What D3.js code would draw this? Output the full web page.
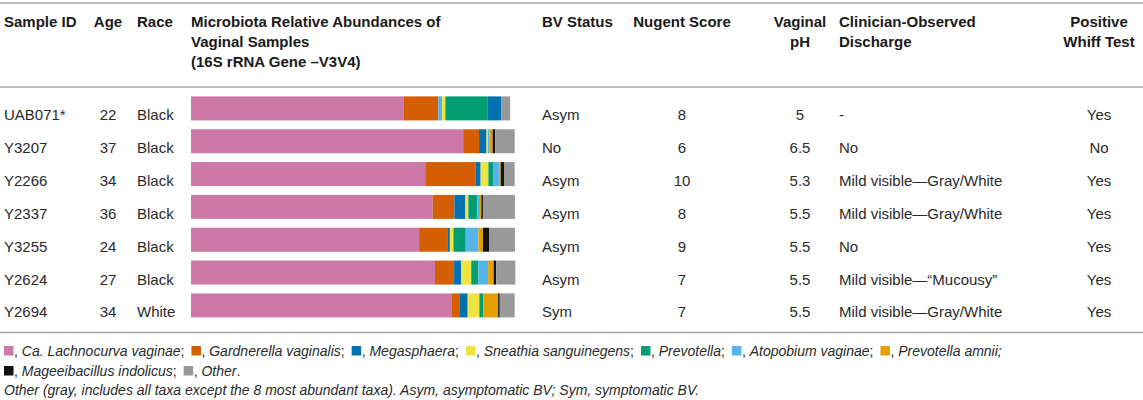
<!DOCTYPE html>
<html>
<head>
<meta charset="utf-8">
<script src="https://cdn.jsdelivr.net/npm/d3@7"></script>
<style>
  html, body { margin: 0; padding: 0; background: #fff; }
  svg { display: block; font-family: "Liberation Sans", Arial, Helvetica, sans-serif; }
</style>
</head>
<body>
<svg id="chart" width="1143" height="400"></svg>
<script>
// ---------- data ----------
const sampleIds = ["UAB071*", "Y3207", "Y2266", "Y2337", "Y3255", "Y2624", "Y2694"];
const ages = [22, 37, 34, 36, 24, 27, 34];
const races = ["Black", "Black", "Black", "Black", "Black", "Black", "White"];
const bvStatus = ["Asym", "No", "Asym", "Asym", "Asym", "Asym", "Sym"];
const nugentScores = [8, 6, 10, 8, 9, 7, 7];
const vaginalPH = ["5", "6.5", "5.3", "5.5", "5.5", "5.5", "5.5"];
const discharge = ["-", "No", "Mild visible\u2014Gray/White", "Mild visible\u2014Gray/White", "No",
                   "Mild visible\u2014\u201cMucousy\u201d", "Mild visible\u2014Gray/White"];
const whiffTest = ["Yes", "No", "Yes", "Yes", "Yes", "Yes", "Yes"];

// relative abundances (%) per taxon, one value per sample
const lachnocurva = [65.7, 84.0, 72.3, 74.6, 70.4, 75.3, 80.5];
const gardnerella = [10.6, 4.9, 15.6, 6.7, 8.9, 5.9, 2.3];
const megasphaera = [4.1, 2.3, 1.5, 3.4, 0.6, 2.2, 2.6];
const sneathia    = [1.0, 0.4, 2.4, 0.9, 1.1, 3.1, 3.6];
const prevotella  = [13.1, 0, 1.4, 2.8, 3.8, 2.2, 1.2];
const atopobium   = [1.2, 0.6, 2.1, 0.8, 3.9, 3.0, 0];
const prevAmnii   = [0, 0.9, 0.3, 0.4, 1.4, 1.7, 4.6];
const mageeibacillus = [0, 0.8, 1.0, 0.5, 2.0, 0.8, 0.5];
const other       = [2.8, 6.0, 3.3, 9.9, 7.9, 5.9, 4.6];

const taxa = ["lachnocurva", "gardnerella", "megasphaera", "sneathia", "prevotella",
              "atopobium", "prevAmnii", "mageeibacillus", "other"];
const taxonNames = ["Ca. Lachnocurva vaginae", "Gardnerella vaginalis", "Megasphaera",
                    "Sneathia sanguinegens", "Prevotella", "Atopobium vaginae",
                    "Prevotella amnii", "Mageeibacillus indolicus", "Other"];
const taxonColors = ["#CC79A7", "#D55E00", "#0072B2", "#F0E442", "#009E73",
                     "#56B4E9", "#E69F00", "#111111", "#999999"];
// stacking order seen in each bar
const defaultOrder = taxa;
const barOrders = [
  ["lachnocurva", "gardnerella", "atopobium", "sneathia", "prevotella", "megasphaera", "other"],
  defaultOrder, defaultOrder, defaultOrder, defaultOrder, defaultOrder, defaultOrder
];

const abundance = { lachnocurva, gardnerella, megasphaera, sneathia, prevotella,
                    atopobium, prevAmnii, mageeibacillus, other };

// ---------- layout ----------
const svg = d3.select("#chart");
const W = 1143;
const rowY = d3.scaleLinear().domain([0, 6]).range([115, 312]);   // text visual centers
const x = d3.scaleLinear().domain([0, 100]).range([191, 515]);
const color = d3.scaleOrdinal().domain(taxa).range(taxonColors);

const ruleColor = "#a8a8a8";
[3, 87, 332.5].forEach(y => {
  svg.append("line").attr("x1", 0).attr("x2", W).attr("y1", y).attr("y2", y)
    .attr("stroke", ruleColor).attr("stroke-width", 1.4);
});

// headers
const headers = [
  { lines: ["Sample ID"], x: 4, anchor: "start" },
  { lines: ["Age"], x: 108, anchor: "middle" },
  { lines: ["Race"], x: 137, anchor: "start" },
  { lines: ["Microbiota Relative Abundances of", "Vaginal Samples", "(16S rRNA Gene \u2013V3V4)"], x: 191, anchor: "start" },
  { lines: ["BV Status"], x: 542, anchor: "start" },
  { lines: ["Nugent Score"], x: 682, anchor: "middle" },
  { lines: ["Vaginal", "pH"], x: 800, anchor: "middle" },
  { lines: ["Clinician-Observed", "Discharge"], x: 839, anchor: "start" },
  { lines: ["Positive", "Whiff Test"], x: 1099, anchor: "middle" }
];
headers.forEach(h => {
  const t = svg.append("text").attr("x", h.x).attr("y", 27)
    .attr("text-anchor", h.anchor).attr("font-weight", "bold")
    .attr("font-size", 15).attr("fill", "#1a1a1a");
  h.lines.forEach((l, i) => {
    t.append("tspan").attr("x", h.x).attr("dy", i === 0 ? 0 : 20).text(l);
  });
});

// body text columns
const cols = [
  { vals: sampleIds, x: 4, anchor: "start" },
  { vals: ages, x: 108, anchor: "middle" },
  { vals: races, x: 137, anchor: "start" },
  { vals: bvStatus, x: 542, anchor: "start" },
  { vals: nugentScores, x: 682, anchor: "middle" },
  { vals: vaginalPH, x: 800, anchor: "middle" },
  { vals: discharge, x: 839, anchor: "start" },
  { vals: whiffTest, x: 1099, anchor: "middle" }
];
cols.forEach(c => {
  svg.append("g").selectAll("text").data(c.vals).join("text")
    .attr("x", c.x).attr("y", (d, i) => rowY(i) + 5.4)
    .attr("text-anchor", c.anchor).attr("font-size", 15).attr("fill", "#2a2a2a")
    .text(d => d);
});

// stacked bars
const barH = 24;
sampleIds.forEach((id, i) => {
  const order = barOrders[i];
  const vals = order.map(k => abundance[k][i]);
  const ends = d3.cumsum(vals);
  const segs = order.map((k, j) => ({ key: k, x0: ends[j] - vals[j], x1: ends[j] }))
    .filter(s => s.x1 > s.x0);
  svg.append("g").selectAll("rect").data(segs).join("rect")
    .attr("x", d => x(d.x0)).attr("width", d => x(d.x1) - x(d.x0))
    .attr("y", rowY(i) + 5.4 - barH).attr("height", barH)
    .attr("fill", d => color(d.key));
});

// legend
const legendFont = 14;
const legendLines = [[0, 1, 2, 3, 4, 5, 6], [7, 8]];
const legendBase = [355.5, 375.5];
legendLines.forEach((items, li) => {
  let cx = 4;
  items.forEach((ti, k) => {
    svg.append("rect").attr("x", cx).attr("y", legendBase[li] - 9.5)
      .attr("width", 9.5).attr("height", 9.5).attr("fill", taxonColors[ti]);
    cx += 10;
    const last = k === items.length - 1;
    const t = svg.append("text").attr("x", cx).attr("y", legendBase[li])
      .attr("font-size", legendFont).attr("fill", "#2a2a2a").attr("font-style", "italic");
    t.append("tspan").attr("font-style", "normal").text(", ");
    t.append("tspan").text(taxonNames[ti]);
    t.append("tspan").attr("font-style", ti === 6 ? "italic" : "normal")
      .text(last ? (li === 0 ? ";" : ".") : "; ");
    cx += t.node().getComputedTextLength() + 7;
  });
});
svg.append("text").attr("x", 4).attr("y", 395)
  .attr("font-size", legendFont).attr("font-style", "italic").attr("fill", "#2a2a2a")
  .text("Other (gray, includes all taxa except the 8 most abundant taxa). Asym, asymptomatic BV; Sym, symptomatic BV.");
</script>
</body>
</html>
